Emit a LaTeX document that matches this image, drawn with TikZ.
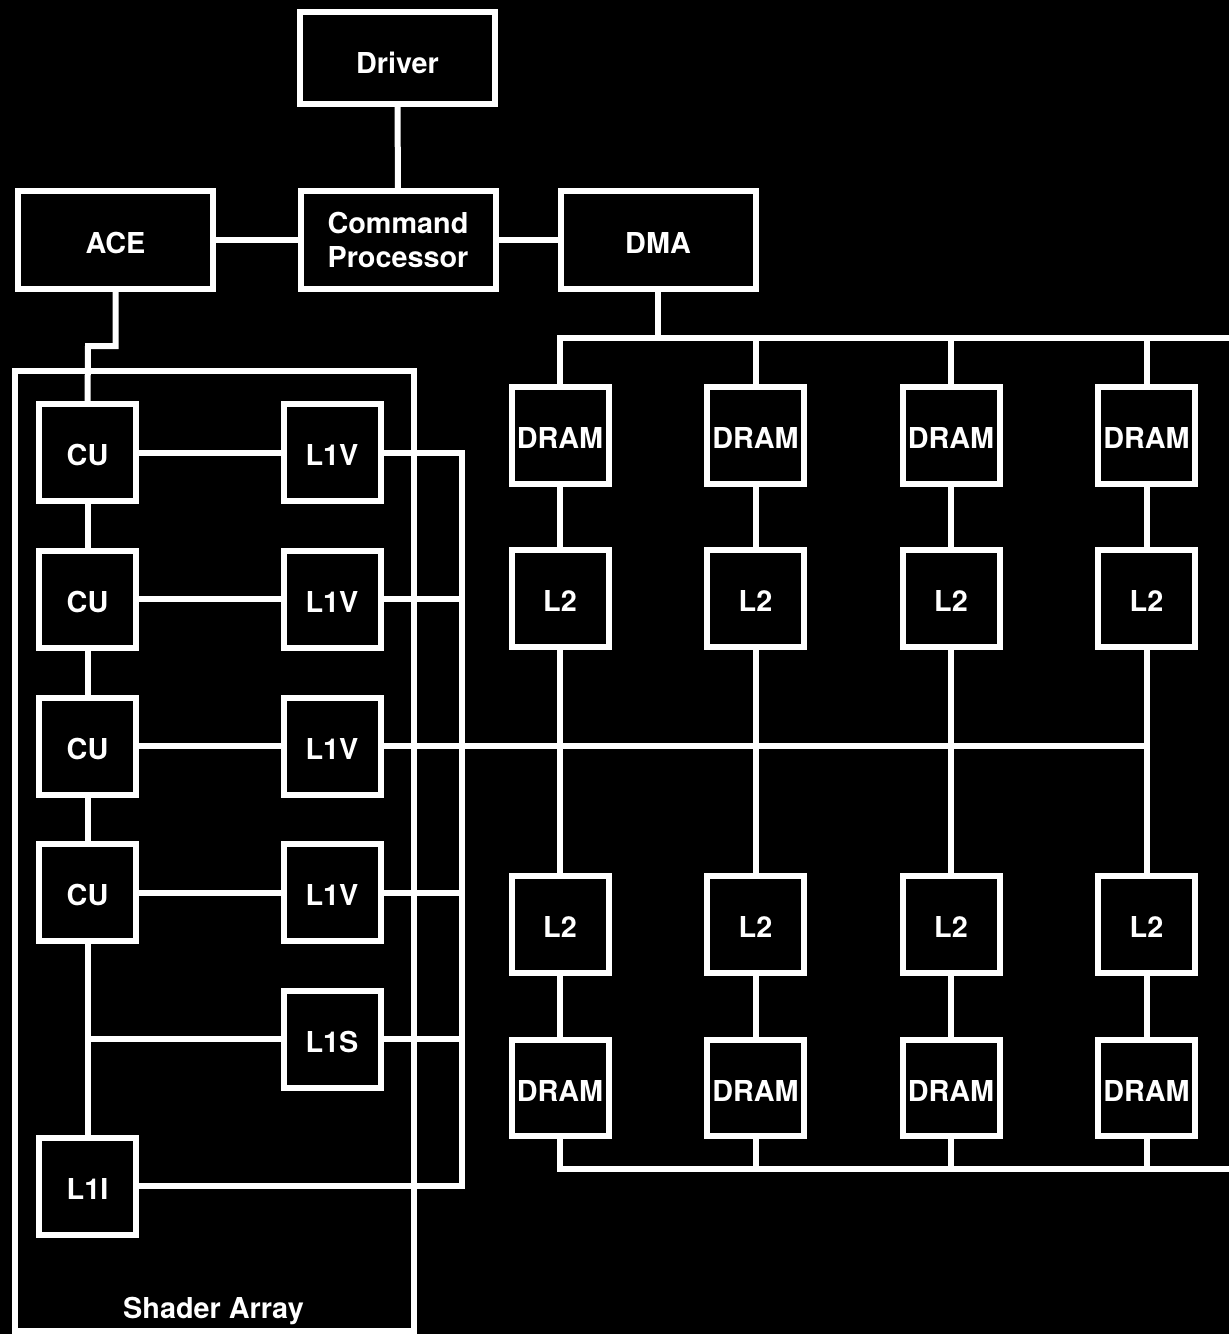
\documentclass[tikz,border=0pt]{standalone}
\usepackage{fontspec}
\setmainfont{TeX Gyre Heros}
\begin{document}
\begin{tikzpicture}[x=1pt,y=-1pt,
  box/.style={draw=white, line width=6pt, fill=black, text=white, inner sep=0pt, outer sep=0pt,
    font=\fontsize{28.8}{34}\selectfont\bfseries, align=center},
  low/.style={text height=26pt, text depth=0pt},
  sq/.style={box, low, minimum width=97pt, minimum height=97pt},
  wide/.style={box, minimum width=195pt, minimum height=98pt},
  wire/.style={draw=white, line width=6pt}]
\fill[black] (0,0) rectangle (1229,1334);
\useasboundingbox (0,0) rectangle (1229,1334);

% shader array frame
\node[draw=white, line width=6pt, inner sep=0pt, outer sep=0pt,
  minimum width=399pt, minimum height=960pt] (SA) at (214.5,851) {};
\node[text=white, font=\fontsize{28.8}{34}\selectfont\bfseries, anchor=base, inner sep=0pt] (SAlab) at (213.5,1318) {Shader Array};

% top row
\node[wide, minimum height=92pt, text height=30.5pt, text depth=0pt] (DRV) at (397.5,58) {Driver};
\node[wide] (CP) at (398,240) {Command\\Processor};
\node[wide, low] (ACE) at (115.5,240) {ACE};
\node[wide, low] (DMA) at (658,240) {DMA};

% coordinates
\coordinate (acej) at (88,346);
\coordinate (bus) at (462,0);
\coordinate (tbR) at (1240,338);
\coordinate (bbR) at (1240,1169);

% shader array contents
\foreach \i/\y in {1/452.5,2/599,3/746,4/892.5}{
  \node[sq] (CU\i) at (87.5,\y) {CU};
  \node[sq] (V\i) at (332,\y) {L1V};
}
\node[sq] (L1S) at (332,1039) {L1S};
\node[sq] (L1I) at (87.5,1186) {L1I};

% memory columns
\foreach \j/\x in {1/560,2/755.5,3/951,4/1146.5}{
  \node[sq] (DT\j) at (\x,435) {DRAM};
  \node[sq] (LT\j) at (\x,598.5) {L2};
  \node[sq] (LB\j) at (\x,924.5) {L2};
  \node[sq, minimum height=96pt] (DB\j) at (\x,1088) {DRAM};
}

% top connectors
\draw[wire] (DRV.south) -- (CP.north);
\draw[wire] (ACE.east) -- (CP.west);
\draw[wire] (CP.east) -- (DMA.west);
\draw[wire] (ACE.south) |- (acej) -- (CU1.north);

% CU chain
\draw[wire] (CU1.south) -- (CU2.north);
\draw[wire] (CU2.south) -- (CU3.north);
\draw[wire] (CU3.south) -- (CU4.north);
\draw[wire] (CU4.south) -- (L1I.north);
\draw[wire] (L1S.west) -- (L1S.west -| CU4.south);

% CU to L1V
\foreach \i in {1,...,4}{
  \draw[wire] (CU\i.east) -- (V\i.west);
}

% L1 bus
\draw[wire] (V1.east) -- (V1.east -| bus) -- (L1I.east -| bus) -- (L1I.east);
\draw[wire] (V2.east) -- (V2.east -| bus);
\draw[wire] (V3.east) -- (V3.east -| LT4.south);
\draw[wire] (V4.east) -- (V4.east -| bus);
\draw[wire] (L1S.east) -- (L1S.east -| bus);

% memory columns
\draw[wire] (DMA.south) -- (DMA.south |- tbR);
\draw[wire] (DT1.north) |- (tbR);
\draw[wire] (DB1.south) |- (bbR);
\foreach \j in {2,...,4}{
  \draw[wire] (DT\j.north) -- (DT\j.north |- tbR);
  \draw[wire] (DB\j.south) -- (DB\j.south |- bbR);
}
\foreach \j in {1,...,4}{
  \draw[wire] (DT\j.south) -- (LT\j.north);
  \draw[wire] (LT\j.south) -- (LB\j.north);
  \draw[wire] (LB\j.south) -- (DB\j.north);
}
\end{tikzpicture}
\end{document}
